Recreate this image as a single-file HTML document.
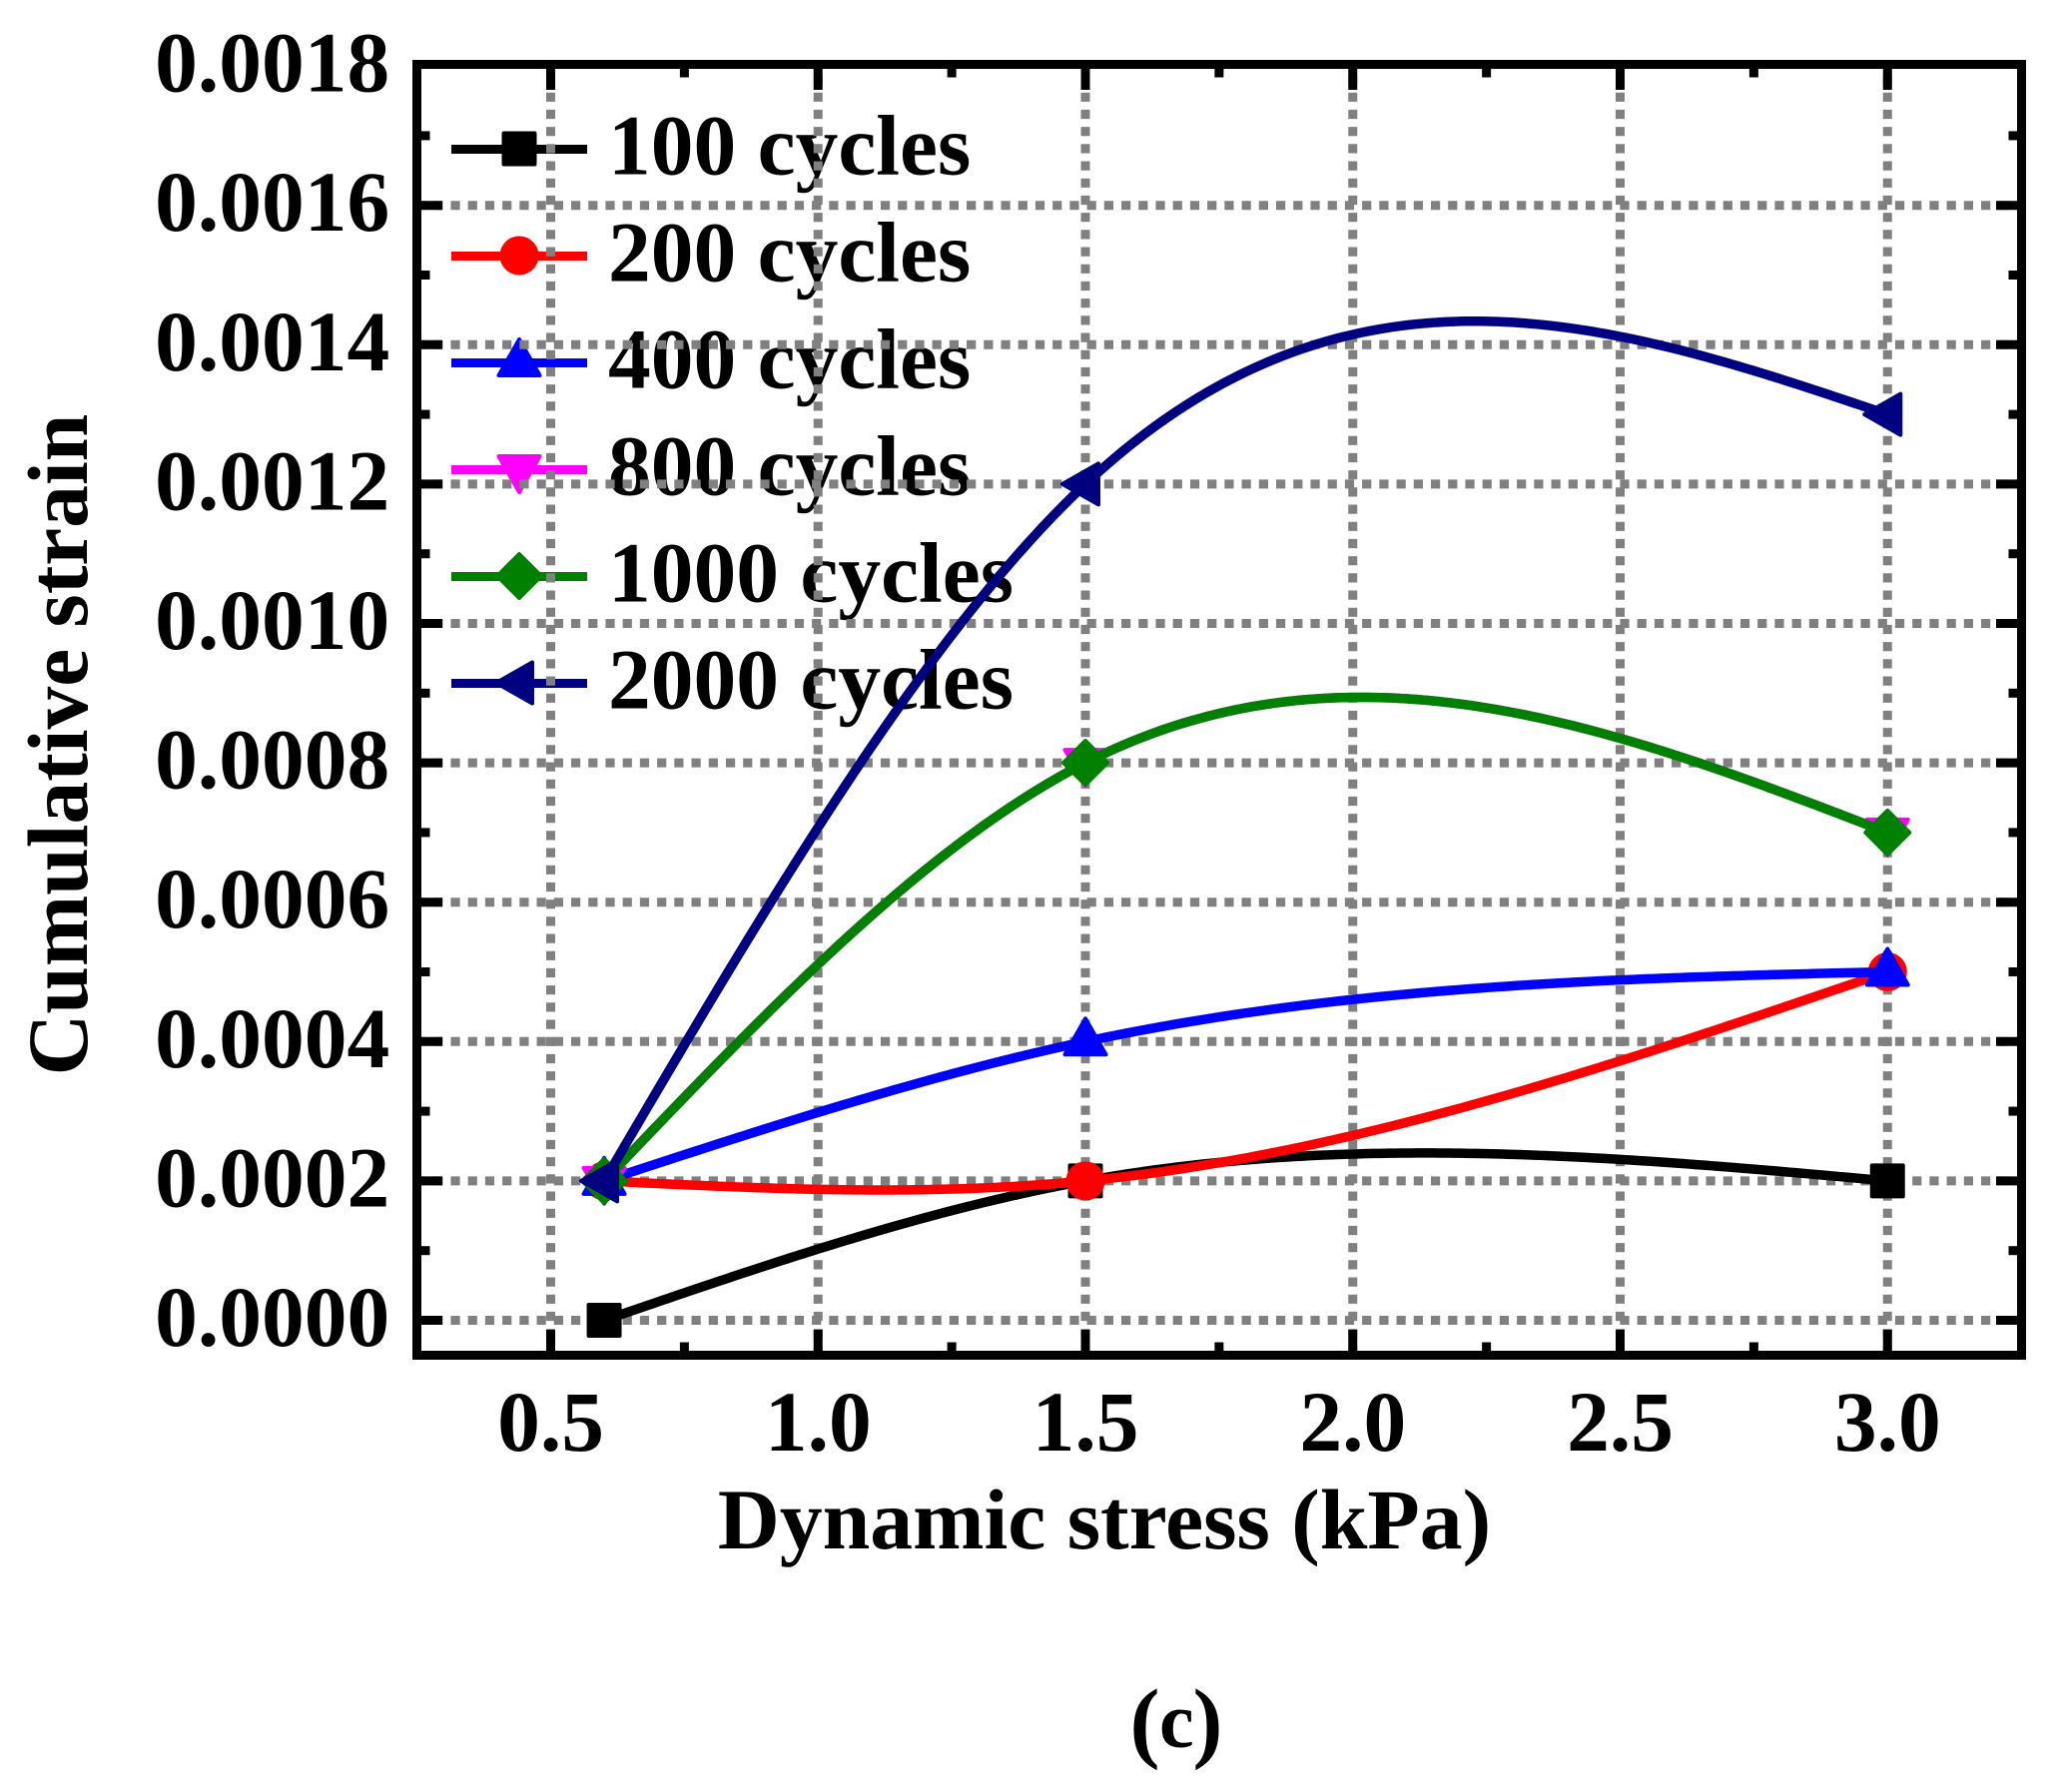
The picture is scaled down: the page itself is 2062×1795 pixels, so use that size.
<!DOCTYPE html>
<html lang="en">
<head>
<meta charset="utf-8">
<title>Cumulative strain vs dynamic stress</title>
<style>
html,body{margin:0;padding:0;background:#fff;}
svg{display:block;}
text{font-family:"Liberation Serif",serif;font-weight:bold;fill:#000;}
</style>
</head>
<body>
<svg id="chart" xmlns="http://www.w3.org/2000/svg" width="2062" height="1795" viewBox="0 0 2062 1795">
<rect x="0" y="0" width="2062" height="1795" fill="#fff"/>
<text transform="translate(87,746) rotate(-90)" text-anchor="middle" font-size="85.5">Cumulative strain</text>
<text x="1106" y="1551" text-anchor="middle" font-size="85.7">Dynamic stress (kPa)</text>
<text><tspan x="1131.5" y="1754" font-size="90">(</tspan><tspan x="1161" y="1750" font-size="78">c</tspan><tspan x="1194.5" y="1754" font-size="90">)</tspan></text>
</svg>
<script>
const stressValues = [0.6, 1.5, 3.0];
const cycles100 = [0, 0.0002, 0.0002];
const cycles200 = [0.0002, 0.0002, 0.0005];
const cycles400 = [0.0002, 0.0004, 0.0005];
const cycles800 = [0.0002, 0.0008, 0.0007];
const cycles1000 = [0.0002, 0.0008, 0.0007];
const cycles2000 = [0.0002, 0.0012, 0.0013];
const seriesLabels = ['100 cycles', '200 cycles', '400 cycles', '800 cycles', '1000 cycles', '2000 cycles'];
const seriesValues = [cycles100, cycles200, cycles400, cycles800, cycles1000, cycles2000];
const seriesColors = ['#000000', '#ff0000', '#0000ff', '#ff00ff', '#008000', '#000080'];
const seriesMarkers = ['square', 'circle', 'up', 'down', 'diamond', 'left'];
const xTickValues = [0.5, 1.0, 1.5, 2.0, 2.5, 3.0];
const xTickLabels = ['0.5', '1.0', '1.5', '2.0', '2.5', '3.0'];
const xMinorTicks = [0.75, 1.25, 1.75, 2.25, 2.75];
const yTickValues = [0, 0.0002, 0.0004, 0.0006, 0.0008, 0.0010, 0.0012, 0.0014, 0.0016, 0.0018];
const yTickLabels = ['0.0000', '0.0002', '0.0004', '0.0006', '0.0008', '0.0010', '0.0012', '0.0014', '0.0016', '0.0018'];
const yMinorTicks = [0.0001, 0.0003, 0.0005, 0.0007, 0.0009, 0.0011, 0.0013, 0.0015, 0.0017];

const NS = 'http://www.w3.org/2000/svg';
const svg = document.getElementById('chart');
const frameLeft = 417.5, frameRight = 2024.5, frameTop = 64.5, frameBottom = 1357.5;
const xScale = v => 551.5 + (v - 0.5) * 535.5;
const yScale = v => 1322.5 - v * 698000;

function make(tag, attrs, parent) {
  const el = document.createElementNS(NS, tag);
  for (const k in attrs) el.setAttribute(k, attrs[k]);
  (parent || svg).appendChild(el);
  return el;
}

function naturalSpline(xs, ys) {
  const n = xs.length;
  const m = new Array(n).fill(0);
  const c = new Array(n).fill(0), d = new Array(n).fill(0);
  for (let i = 1; i < n - 1; i++) {
    const h0 = xs[i] - xs[i - 1], h1 = xs[i + 1] - xs[i];
    const b = 2 * (h0 + h1) - h0 * c[i - 1];
    c[i] = h1 / b;
    d[i] = (6 * ((ys[i + 1] - ys[i]) / h1 - (ys[i] - ys[i - 1]) / h0) - h0 * d[i - 1]) / b;
  }
  for (let i = n - 2; i > 0; i--) m[i] = d[i] - c[i] * m[i + 1];
  return function (x) {
    let i = 0;
    while (i < n - 2 && x > xs[i + 1]) i++;
    const h = xs[i + 1] - xs[i], a = (xs[i + 1] - x) / h, b = (x - xs[i]) / h;
    return a * ys[i] + b * ys[i + 1] + ((a * a * a - a) * m[i] + (b * b * b - b) * m[i + 1]) * h * h / 6;
  };
}

function drawMarker(kind, cx, cy, color, parent) {
  const common = { fill: color, stroke: color, 'stroke-width': 4, 'stroke-linejoin': 'round' };
  let el;
  if (kind === 'square') {
    el = make('rect', Object.assign({ x: cx - 15.5, y: cy - 15.5, width: 31, height: 31 }, common), parent);
  } else if (kind === 'circle') {
    el = make('circle', Object.assign({ cx: cx, cy: cy, r: 17.5 }, common), parent);
  } else {
    const shapes = {
      up: [[0, -23], [-20.5, 13], [20.5, 13]],
      down: [[0, 23], [-20.5, -13], [20.5, -13]],
      left: [[-23, 0], [13, -20.5], [13, 20.5]],
      diamond: [[0, -22], [22, 0], [0, 22], [-22, 0]]
    };
    const pts = shapes[kind].map(p => (cx + p[0]) + ',' + (cy + p[1])).join(' ');
    el = make('polygon', Object.assign({ points: pts }, common), parent);
  }
  return el;
}

/* legend (sits beneath the grid and the curves) */
const legendGroup = make('g', {});


seriesLabels.forEach(function (label, i) {
  const ly = 149.5 + i * 107;
  const entry = make('g', {}, legendGroup);
  
  
  const swatch = make('line', { x1: 452, x2: 588, y1: ly, y2: ly, stroke: seriesColors[i], 'stroke-width': 9 }, entry);
  
  
  const mark = drawMarker(seriesMarkers[i], 520, ly - 0.5, seriesColors[i], entry);
  
  
  const txt = make('text', { x: 609, y: ly + 25, 'font-size': 85.5 }, entry);
  txt.textContent = label;
  
  
});

/* grid */
const gridGroup = make('g', { stroke: '#808080', 'stroke-width': 9, fill: 'none' });


yTickValues.forEach(function (v) {
  if (v >= 0.0018) return;
  const g = make('line', { x1: 417, x2: frameRight, y1: yScale(v), y2: yScale(v), 'stroke-dasharray': '9.2 8.02' }, gridGroup);
  
  
});
xTickValues.forEach(function (v) {
  const g = make('line', { x1: xScale(v), x2: xScale(v), y1: frameBottom, y2: frameTop, 'stroke-dasharray': '9.2 8' }, gridGroup);
  
  
});

/* series */
seriesValues.forEach(function (vals, i) {
  const group = make('g', {});
  
  
  const f = naturalSpline(stressValues, vals);
  const x0 = stressValues[0], x1 = stressValues[stressValues.length - 1];
  let d = '';
  for (let k = 0; k <= 240; k++) {
    const x = x0 + (x1 - x0) * k / 240;
    d += (k ? 'L' : 'M') + xScale(x).toFixed(2) + ' ' + yScale(f(x)).toFixed(2);
  }
  const path = make('path', { d: d, fill: 'none', stroke: seriesColors[i], 'stroke-width': 9.5, 'stroke-linejoin': 'round' }, group);
  
  
  vals.forEach(function (v, j) {
    const m = drawMarker(seriesMarkers[i], xScale(stressValues[j]), yScale(v), seriesColors[i], group);
    
    
  });
});

/* frame and ticks */
const axisGroup = make('g', { stroke: '#000', 'stroke-width': 9, fill: 'none' });


const frame = make('rect', { x: frameLeft, y: frameTop, width: frameRight - frameLeft, height: frameBottom - frameTop }, axisGroup);


function xTick(v, len) {
  const x = xScale(v);
  const a = make('line', { x1: x, x2: x, y1: frameBottom, y2: frameBottom - 4.5 - len }, axisGroup);
  
  
  const b = make('line', { x1: x, x2: x, y1: frameTop, y2: frameTop + 4.5 + len }, axisGroup);
  
  
}
function yTick(v, len) {
  const y = yScale(v);
  const a = make('line', { x1: frameLeft, x2: frameLeft + 4.5 + len, y1: y, y2: y }, axisGroup);
  
  
  const b = make('line', { x1: frameRight, x2: frameRight - 4.5 - len, y1: y, y2: y }, axisGroup);
  
  
}
xTickValues.forEach(v => xTick(v, 21));
xMinorTicks.forEach(v => xTick(v, 8.5));
yTickValues.forEach(function (v) { if (v < 0.0018) yTick(v, 21); });
yMinorTicks.forEach(v => yTick(v, 8.5));

/* tick labels */
xTickValues.forEach(function (v, i) {
  const t = make('text', { x: xScale(v), y: 1453, 'text-anchor': 'middle', 'font-size': 85.5 });
  t.textContent = xTickLabels[i];
  
  
});
yTickValues.forEach(function (v, i) {
  const t = make('text', { x: 390.3, y: yScale(v) + 25.5, 'text-anchor': 'end', 'font-size': 85.5 });
  t.textContent = yTickLabels[i];
  
  
});
</script>
</body>
</html>
